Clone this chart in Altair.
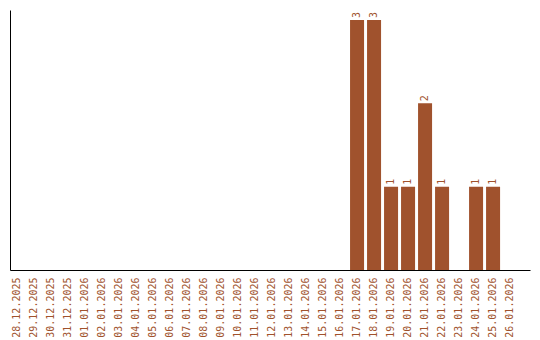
import altair as alt
import pandas as pd

dates = ["28.12.2025", "29.12.2025", "30.12.2025", "31.12.2025"] + [
    f"{d:02d}.01.2026" for d in range(1, 27)
]
counts = [0, 0, 0, 0,
          0, 0, 0, 0, 0, 0, 0, 0, 0, 0, 0, 0, 0, 0, 0, 0,
          3, 3, 1, 1, 2, 1, 0, 1, 1, 0]

df = pd.DataFrame({"date": dates, "count": counts})
COLOR = "#A0522D"
FONT = "DejaVu Sans Mono"

x = alt.X("date:N", sort=dates,
          scale=alt.Scale(paddingInner=0.176, paddingOuter=0.38, align=0),
          axis=alt.Axis(title=None, labelAngle=-90, ticks=False, labelColor=COLOR,
                        labelFont=FONT, labelFontSize=10, labelPadding=7,
                        domainColor="black", domainWidth=1, grid=False))
y = alt.Y("count:Q", scale=alt.Scale(domain=[0, 3.12], nice=False, zero=True),
          axis=alt.Axis(title=None, labels=False, ticks=False, grid=False,
                        domainColor="black", domainWidth=1))

base = alt.Chart(df)
bars = base.mark_bar(color=COLOR).encode(x=x, y=y)
texts = base.transform_filter("datum.count > 0").mark_text(
    angle=270, align="left", baseline="middle", dx=2, color=COLOR,
    font=FONT, fontSize=10
).encode(x=x, y=y, text="count:Q")

chart = (bars + texts).properties(
    width=520, height=260,
    autosize=alt.AutoSizeParams(type="none"),
    padding={"left": 10, "top": 10, "right": 10, "bottom": 70},
    background="white",
).configure_view(stroke=None)

chart.save("out.html", embed_options={"renderer": "svg", "actions": False})
